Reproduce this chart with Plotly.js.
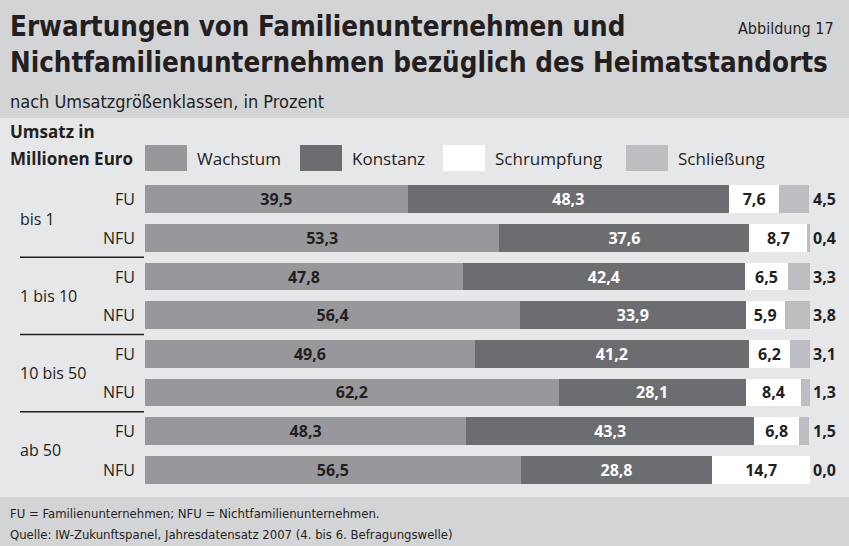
<!DOCTYPE html>
<html>
<head>
<meta charset="utf-8">
<script src="https://cdn.plot.ly/plotly-3.0.1.min.js"></script>
<style>html,body{margin:0;padding:0;background:#e6e7e8;}#chart{width:849px;height:546px;}</style>
</head>
<body>
<div id="chart"></div>
<script>
// ---- data ----
const groups = ["bis 1", "1 bis 10", "10 bis 50", "ab 50"];
const rowTypes = ["FU", "NFU"];
const seriesNames = ["Wachstum", "Konstanz", "Schrumpfung", "Schließung"];
const wachstum    = [39.5, 53.3, 47.8, 56.4, 49.6, 62.2, 48.3, 56.5];
const konstanz    = [48.3, 37.6, 42.4, 33.9, 41.2, 28.1, 43.3, 28.8];
const schrumpfung = [7.6, 8.7, 6.5, 5.9, 6.2, 8.4, 6.8, 14.7];
const schliessung = [4.5, 0.4, 3.3, 3.8, 3.1, 1.3, 1.5, 0.0];
const titleLines = ["Erwartungen von Familienunternehmen und", "Nichtfamilienunternehmen bezüglich des Heimatstandorts"];
const subtitle = "nach Umsatzgrößenklassen, in Prozent";
const figLabel = "Abbildung 17";
const axisHeader = ["Umsatz in", "Millionen Euro"];
const footnotes = ["FU = Familienunternehmen; NFU = Nichtfamilienunternehmen.", "Quelle: IW-Zukunftspanel, Jahresdatensatz 2007 (4. bis 6. Befragungswelle)"];

// ---- styling ----
const colors = ["#97989b", "#6c6d71", "#ffffff", "#bdbec1"];
const textColors = ["#231f20", "#ffffff", "#231f20"];
const ink = "#231f20";
const bodyFont = "Open Sans, Noto Sans, sans-serif";
const condFont = "DejaVu Sans Condensed, sans-serif";

const W = 849, Hh = 546;
const L = 145, R = 810, T = 180, B = 489;
const X = px => (px - L) / (R - L);
const Y = py => (B - py) / (B - T);

// category keys
const keys = [];
groups.forEach(g => rowTypes.forEach(t => keys.push(g + " · " + t)));
const rowLabel = keys.map((k, i) => rowTypes[i % rowTypes.length]);

const series = [wachstum, konstanz, schrumpfung];
const traces = series.map((vals, s) => ({
  type: "bar", orientation: "h", name: seriesNames[s],
  x: vals, y: keys, width: 0.72,
  marker: {color: colors[s], line: {width: 0}},
  texttemplate: "%{x:.1f}", textposition: "inside", insidetextanchor: "middle",
  constraintext: "none",
  textfont: {family: bodyFont, size: 16, color: textColors[s], weight: "bold"},
  hoverinfo: "skip", showlegend: false
}));
traces.push({
  type: "bar", orientation: "h", name: seriesNames[3],
  x: schliessung, y: keys, width: 0.72,
  marker: {color: colors[3], line: {width: 0}},
  hoverinfo: "skip", showlegend: false
});

const fmt = v => v.toFixed(1).replace(".", ",");
const annotations = [];
const shapes = [];

// header / footer bands
shapes.push({type: "rect", xref: "paper", yref: "paper", x0: X(0), x1: X(W), y0: Y(118), y1: Y(0), fillcolor: "#d3d4d6", line: {width: 0}, layer: "below"});
shapes.push({type: "rect", xref: "paper", yref: "paper", x0: X(0), x1: X(W), y0: Y(Hh), y1: Y(497), fillcolor: "#d3d4d6", line: {width: 0}, layer: "below"});

// titles
annotations.push({xref: "paper", yref: "paper", x: X(8), y: Y(26), xanchor: "left", yanchor: "middle", showarrow: false, text: "<b>" + titleLines[0] + "</b>", font: {family: condFont, size: 27.5, color: ink}});
annotations.push({xref: "paper", yref: "paper", x: X(8), y: Y(62), xanchor: "left", yanchor: "middle", showarrow: false, text: "<b>" + titleLines[1] + "</b>", font: {family: condFont, size: 27.5, color: ink}});
annotations.push({xref: "paper", yref: "paper", x: X(836), y: Y(28), xanchor: "right", yanchor: "middle", showarrow: false, text: figLabel, font: {family: condFont, size: 16, color: ink}});
annotations.push({xref: "paper", yref: "paper", x: X(8), y: Y(102), xanchor: "left", yanchor: "middle", showarrow: false, text: subtitle, font: {family: condFont, size: 18, color: ink}});

// axis header
annotations.push({xref: "paper", yref: "paper", x: X(8), y: Y(131), xanchor: "left", yanchor: "middle", showarrow: false, text: "<b>" + axisHeader[0] + "</b>", font: {family: bodyFont, size: 17, color: ink}});
annotations.push({xref: "paper", yref: "paper", x: X(8), y: Y(158), xanchor: "left", yanchor: "middle", showarrow: false, text: "<b>" + axisHeader[1] + "</b>", font: {family: bodyFont, size: 17, color: ink}});

// legend
const legBoxX = [145, 300, 443, 626];
seriesNames.forEach((n, s) => {
  shapes.push({type: "rect", xref: "paper", yref: "paper", x0: X(legBoxX[s]), x1: X(legBoxX[s] + 42), y0: Y(171), y1: Y(145), fillcolor: colors[s], line: {width: 0}});
  annotations.push({xref: "paper", yref: "paper", x: X(legBoxX[s] + 50), y: Y(158), xanchor: "left", yanchor: "middle", showarrow: false, text: n, font: {family: bodyFont, size: 17, color: ink}});
});

// row labels, group labels, separators, end values
keys.forEach((k, i) => {
  annotations.push({xref: "paper", yref: "y", x: 0, y: k, xanchor: "right", yanchor: "middle", xshift: -8, showarrow: false, text: rowLabel[i], font: {family: bodyFont, size: 16, color: ink}});
  annotations.push({xref: "x", yref: "y", x: 100, y: k, xanchor: "left", yanchor: "middle", xshift: 1, showarrow: false, text: "<b>" + fmt(schliessung[i]) + "</b>", font: {family: bodyFont, size: 16, color: ink}});
});
groups.forEach((g, gi) => {
  const n = rowTypes.length;
  annotations.push({xref: "paper", yref: "y", x: X(18), y: gi * n + (n - 1) / 2, xanchor: "left", yanchor: "middle", showarrow: false, text: g, font: {family: bodyFont, size: 16, color: ink}});
  if (gi < groups.length - 1) {
    shapes.push({type: "line", xref: "paper", yref: "y", x0: X(20), x1: X(144), y0: gi * n + n - 0.5, y1: gi * n + n - 0.5, line: {color: ink, width: 1.5}});
  }
});

// footnotes
annotations.push({xref: "paper", yref: "paper", x: X(8), y: Y(513), xanchor: "left", yanchor: "middle", showarrow: false, text: footnotes[0], font: {family: condFont, size: 13, color: ink}});
annotations.push({xref: "paper", yref: "paper", x: X(8), y: Y(534), xanchor: "left", yanchor: "middle", showarrow: false, text: footnotes[1], font: {family: condFont, size: 13, color: ink}});

const layout = {
  width: W, height: Hh,
  margin: {l: L, r: W - R, t: T, b: Hh - B, pad: 0},
  paper_bgcolor: "#e6e7e8", plot_bgcolor: "rgba(0,0,0,0)",
  barmode: "stack", separators: ",.",
  showlegend: false,
  xaxis: {range: [0, 100], visible: false, fixedrange: true},
  yaxis: {type: "category", categoryorder: "array", categoryarray: keys, range: [keys.length - 0.5, -0.5], visible: false, fixedrange: true},
  annotations: annotations, shapes: shapes,
  font: {family: bodyFont, color: ink}
};
Plotly.newPlot("chart", traces, layout, {displayModeBar: false, staticPlot: true});
</script>
</body>
</html>
